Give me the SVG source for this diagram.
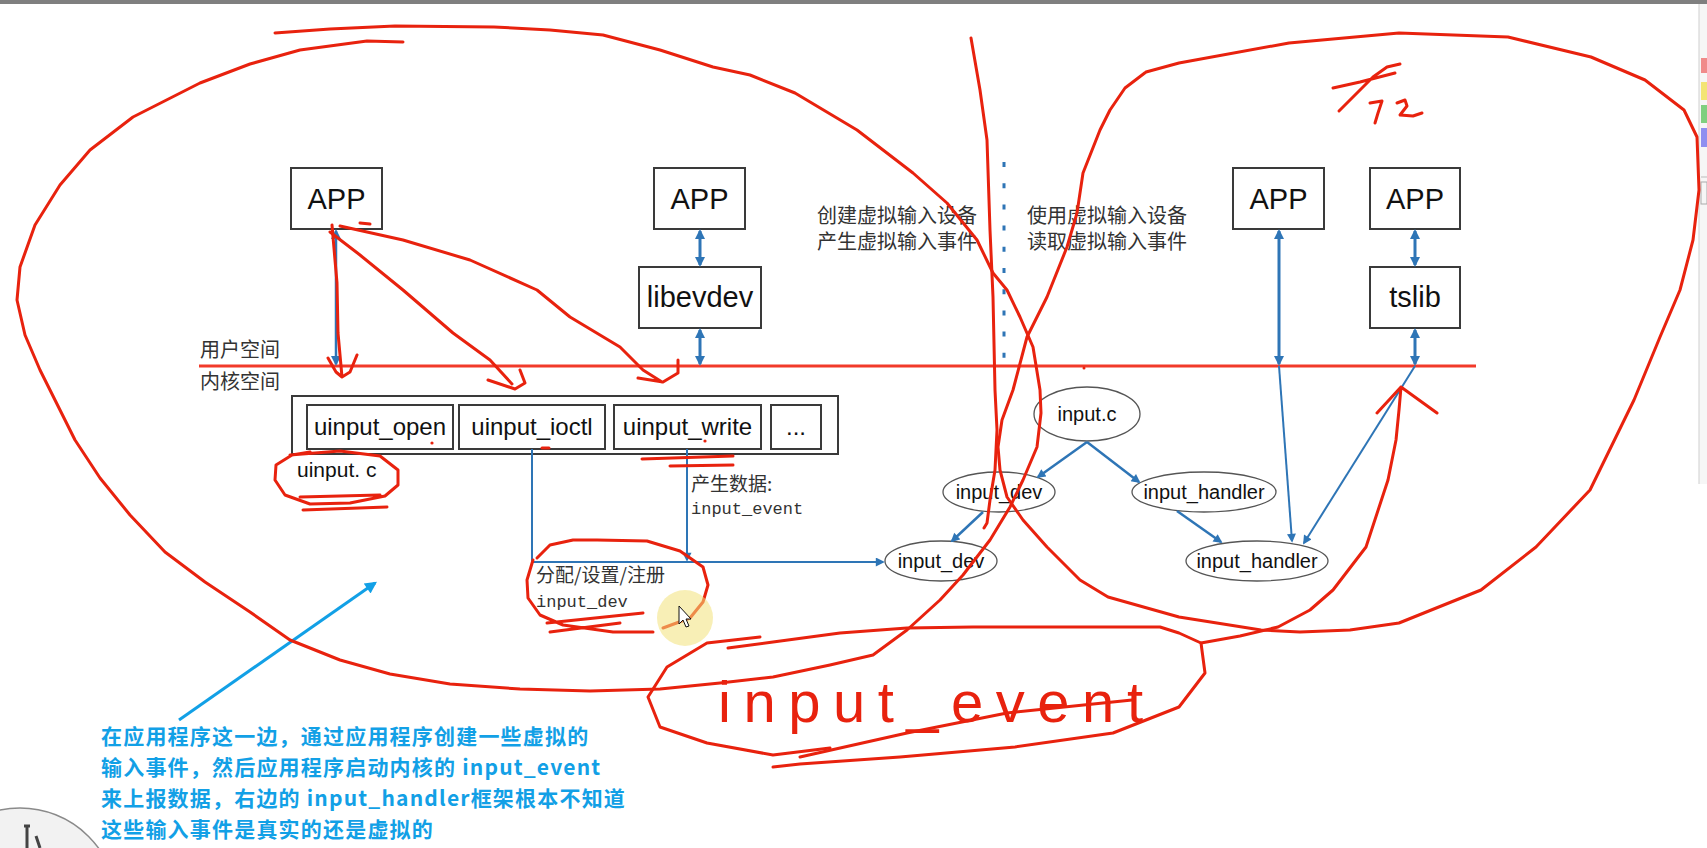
<svg xmlns="http://www.w3.org/2000/svg" width="1707" height="848" viewBox="0 0 1707 848">
<style>
.box{fill:#fff;stroke:#3a3a3a;stroke-width:2}
.ell{fill:#fff;stroke:#555;stroke-width:1.3}
.t{font-family:"Liberation Sans",Arial,sans-serif;fill:#111;text-anchor:middle}
.cjk{font-family:"Noto Sans CJK SC",sans-serif;fill:#333}
.mono{font-family:"Liberation Mono","Noto Sans CJK SC",monospace;fill:#333}
.bl{stroke:#2e75b6;fill:none}
.red{fill:none;stroke:#e8220e;stroke-width:3;stroke-linecap:round;stroke-linejoin:round}
.note{font-family:"Noto Sans CJK SC",sans-serif;font-weight:bold;font-size:21px;letter-spacing:1.2px;fill:#12a0e6}
</style>
<defs>
<marker id="ah" viewBox="0 0 10 10" refX="8" refY="5" markerWidth="11" markerHeight="10" markerUnits="userSpaceOnUse" orient="auto-start-reverse"><path d="M0,0 L10,5 L0,10 z" fill="#2e75b6"/></marker>
<marker id="ahs" viewBox="0 0 10 10" refX="8" refY="5" markerWidth="10" markerHeight="9" markerUnits="userSpaceOnUse" orient="auto"><path d="M0,0 L10,5 L0,10 z" fill="#2e75b6"/></marker>
<marker id="ahc" viewBox="0 0 10 10" refX="8" refY="5" markerWidth="14" markerHeight="12" markerUnits="userSpaceOnUse" orient="auto"><path d="M0,0 L10,5 L0,10 z" fill="#12a0e6"/></marker>
</defs>
<rect x="0" y="0" width="1707" height="848" fill="#fff"/>
<rect x="0" y="0" width="1707" height="4" fill="#7f7f7f"/>
<g id="toolbar">
<rect x="1699" y="4" width="8" height="480" fill="#f6f6f6"/>
<line x1="1699" y1="4" x2="1699" y2="484" stroke="#cfcfcf" stroke-width="1"/>
<rect x="1701" y="58" width="6" height="15" fill="#f08a8a"/>
<rect x="1701" y="82" width="6" height="18" fill="#f3e474"/>
<rect x="1701" y="105" width="6" height="18" fill="#7fcf7f"/>
<rect x="1701" y="128" width="6" height="19" fill="#8f8ff0"/>
<line x1="1701" y1="177" x2="1707" y2="177" stroke="#bbb"/>
<rect x="1701" y="182" width="6" height="22" fill="none" stroke="#aaa"/>
</g>
<g id="corner-icon">
<circle cx="20" cy="905" r="97" fill="#f2f2f2" stroke="#8a8a8a" stroke-width="1.5"/>
<path d="M24,826 L30,826 M27,826 L27,848 M36,836 L40,848" stroke="#444" stroke-width="3" fill="none"/>
</g>

<line id="user-kernel-line" x1="199" y1="366" x2="1476" y2="366" stroke="#f23a2a" stroke-width="3"/>
<text class="cjk" x="200" y="357" font-size="20">用户空间</text>
<text class="cjk" x="200" y="389" font-size="20">内核空间</text>

<g id="app1"><rect class="box" x="291" y="168" width="91" height="61"/><text class="t" x="336.5" y="209" font-size="29">APP</text></g>
<g id="app2"><rect class="box" x="654" y="168" width="91" height="61"/><text class="t" x="699.5" y="209" font-size="29">APP</text></g>
<g id="libevdev"><rect class="box" x="639" y="267" width="122" height="61"/><text class="t" x="700" y="307" font-size="29">libevdev</text></g>
<g id="app3"><rect class="box" x="1233" y="168" width="91" height="61"/><text class="t" x="1278.5" y="209" font-size="29">APP</text></g>
<g id="app4"><rect class="box" x="1370" y="168" width="90" height="61"/><text class="t" x="1415" y="209" font-size="29">APP</text></g>
<g id="tslib"><rect class="box" x="1370" y="267" width="90" height="61"/><text class="t" x="1415" y="307" font-size="29">tslib</text></g>

<g id="uinput-c">
<rect class="box" x="292" y="396" width="546" height="58"/>
<rect class="box" x="307" y="405" width="146" height="44"/><text class="t" x="380" y="435" font-size="24">uinput_open</text>
<rect class="box" x="459" y="405" width="146" height="44"/><text class="t" x="532" y="435" font-size="24">uinput_ioctl</text>
<rect class="box" x="614" y="405" width="147" height="44"/><text class="t" x="687.5" y="435" font-size="24">uinput_write</text>
<rect class="box" x="771" y="405" width="50" height="44"/><text class="t" x="796" y="435" font-size="24">...</text>
<text class="t" x="297" y="477" font-size="21" style="text-anchor:start">uinput. c</text>
</g>

<g id="input-c"><ellipse class="ell" cx="1087" cy="414" rx="53" ry="27"/><text class="t" x="1087" y="421" font-size="20">input.c</text></g>
<g id="input-dev-1"><ellipse class="ell" cx="999" cy="492" rx="56" ry="20"/><text class="t" x="999" y="499" font-size="20">input_dev</text></g>
<g id="input-handler-1"><ellipse class="ell" cx="1204" cy="492" rx="72" ry="20"/><text class="t" x="1204" y="499" font-size="20">input_handler</text></g>
<g id="input-dev-2"><ellipse class="ell" cx="941" cy="561" rx="56" ry="20"/><text class="t" x="941" y="568" font-size="20">input_dev</text></g>
<g id="input-handler-2"><ellipse class="ell" cx="1257" cy="561" rx="71" ry="20"/><text class="t" x="1257" y="568" font-size="20">input_handler</text></g>

<g id="labels">
<text class="cjk" x="817" y="223" font-size="20">创建虚拟输入设备</text>
<text class="cjk" x="817" y="249" font-size="20">产生虚拟输入事件</text>
<text class="cjk" x="1027" y="223" font-size="20">使用虚拟输入设备</text>
<text class="cjk" x="1027" y="249" font-size="20">读取虚拟输入事件</text>
<text class="cjk" x="691" y="491" font-size="19">产生数据:</text>
<text class="mono" x="691" y="514" font-size="17">input_event</text>
<text class="cjk" x="536" y="582" font-size="19">分配/设置/注册</text>
<text class="mono" x="536" y="607" font-size="17">input_dev</text>
</g>

<g id="connectors">
<line class="bl" x1="336" y1="231" x2="336" y2="364" stroke-width="2.5" marker-start="url(#ah)" marker-end="url(#ah)"/>
<line class="bl" x1="700" y1="231" x2="700" y2="265" stroke-width="3" marker-start="url(#ah)" marker-end="url(#ah)"/>
<line class="bl" x1="700" y1="330" x2="700" y2="364" stroke-width="3" marker-start="url(#ah)" marker-end="url(#ah)"/>
<line class="bl" x1="1279" y1="231" x2="1279" y2="364" stroke-width="3" marker-start="url(#ah)" marker-end="url(#ah)"/>
<line class="bl" x1="1415" y1="231" x2="1415" y2="265" stroke-width="3" marker-start="url(#ah)" marker-end="url(#ah)"/>
<line class="bl" x1="1415" y1="330" x2="1415" y2="364" stroke-width="3" marker-start="url(#ah)" marker-end="url(#ah)"/>
<line class="bl" x1="1279" y1="366" x2="1292" y2="541" stroke-width="2" marker-end="url(#ahs)"/>
<line class="bl" x1="1415" y1="366" x2="1304" y2="543" stroke-width="2" marker-end="url(#ahs)"/>
<polyline class="bl" points="532,449 532,562 883,562" stroke-width="2" marker-end="url(#ahs)"/>
<line class="bl" x1="687" y1="449" x2="687" y2="560" stroke-width="2" marker-end="url(#ahs)"/>
<line class="bl" x1="1087" y1="442" x2="1038" y2="477" stroke-width="2.5" marker-end="url(#ahs)"/>
<line class="bl" x1="1087" y1="442" x2="1139" y2="482" stroke-width="2.5" marker-end="url(#ahs)"/>
<line class="bl" x1="983" y1="512" x2="952" y2="541" stroke-width="2.5" marker-end="url(#ahs)"/>
<line class="bl" x1="1177" y1="511" x2="1221" y2="542" stroke-width="2.5" marker-end="url(#ahs)"/>
<line class="bl" x1="1004" y1="162" x2="1004" y2="360" stroke-width="3" stroke-dasharray="5 16.2"/>
</g>

<g id="annotation-arrow">
<line x1="179" y1="720" x2="375" y2="583" stroke="#12a0e6" stroke-width="3" marker-end="url(#ahc)"/>
</g>
<g id="annotation-text">
<text class="note" x="101" y="744">在应用程序这一边，通过应用程序创建一些虚拟的</text>
<text class="note" x="101" y="775">输入事件，然后应用程序启动内核的 input_event</text>
<text class="note" x="101" y="806">来上报数据，右边的 input_handler框架根本不知道</text>
<text class="note" x="101" y="837">这些输入事件是真实的还是虚拟的</text>
</g>

<g id="red-annotations">
<path class="red" d="M403,42 L367,41 L300,50 L250,64 L200,83 L133,117 L90,150 L60,185 L35,225 L20,267 L17,300 L25,335 L40,370 L55,400 L75,440 L100,478 L130,515 L165,552 L205,582 L250,612 L290,640 L340,660 L390,674 L450,684 L520,689 L590,691 L660,689 L720,683 L773,677 L830,665 L873,655 L907,630 L940,600 L963,575 L990,540 L1010,507 L1023,480 L1037,447 L1041,413 L1040,390 L1033,347 L1020,317 L1007,290 L993,273 L977,240 L947,203 L913,173 L857,130 L795,93 L750,75 L713,67 L660,50 L603,35 L550,30 L494,27 L395,26 L330,29 L275,33"/>
<path class="red" d="M971,38 L980,90 L987,140 L990,230 L993,297 L995,390 L997,430 L995,470 L990,500 L987,523 L984,528"/>
<path class="red" d="M1146,72 L1125,88 L1110,110 L1100,130 L1083,173 L1077,213 L1067,247 L1047,297 L1027,337 L1013,390 L1002,420 L998,447 L1000,470 L1007,497 L1023,520 L1047,547 L1080,580 L1108,597 L1179,617 L1261,630 L1300,632 L1350,630 L1399,623 L1481,590 L1536,547 L1590,490 L1634,400 L1660,337 L1680,290 L1693,240 L1699,190 L1697,137 L1684,110 L1645,80 L1591,57 L1508,37 L1399,33 L1289,43 L1179,63 L1146,72"/>
<path class="red" d="M1201,643 L1240,636 L1278,627 L1310,610 L1333,590 L1366,547 L1388,480 L1396,440 L1399,410 L1401,387 M1377,413 L1401,387 L1437,413"/>
<path class="red" d="M728,648 L773,642 L840,633 L907,628 L973,627 L1160,627 L1179,633 L1201,643 L1205,673 L1179,707 L1113,733 L1015,747 L900,757 L800,764 L773,767"/>
<path class="red" d="M760,637 L707,643 L667,667 L648,697 L660,727 L707,743 L773,755 L830,748"/>
<path class="red" d="M800,757 L907,733 L1007,713 L1132,700"/>
<path class="red" d="M332,225 L335,260 L337,283 L338,333 L342,377 M328,358 L336,372 L342,377 L350,372 L357,355"/>
<path class="red" d="M330,232 L360,255 L403,290 L453,333 L490,360 L512,384 M488,380 L515,389 L525,383 L520,370"/>
<path class="red" d="M340,226 L403,240 L470,260 L537,290 L570,317 L620,347 L643,370 L662,382 M638,378 L663,382 L678,373 L678,360"/>
<path class="red" d="M360,223 L370,224"/>
<path class="red" d="M290,455 L340,451 L380,456 L398,470 L398,485 L385,496 L350,503 L310,504 L285,495 L275,480 L276,465 L292,455 L310,452 M300,497 L380,495 M303,510 L387,507"/>
<path class="red" d="M537,558 L550,545 L573,540 L597,540 L647,541 L680,551 L703,567 L708,585 L703,602 L690,618 L663,628 M533,560 L527,580 L528,598 L540,615 L563,625 L613,632 L653,632 M547,623 L643,613 M550,632 L620,623"/>
<path class="red" d="M642,459 L733,456 M670,466 L733,465 M542,448 L549,448"/>
<circle cx="432" cy="443" r="1.6" fill="#e8220e"/>
<circle cx="705" cy="441" r="1.6" fill="#e8220e"/>
<circle cx="1084" cy="368" r="1.5" fill="#e8220e"/>
<path class="red" d="M1333,88 L1360,82 L1395,73 M1400,64 L1387,67 L1373,77 L1357,93 L1339,111 M1370,103 L1382,101 L1378,113 L1375,123 M1397,103 L1405,100 L1407,106 L1400,115 L1413,116 L1422,113"/>
<text x="718" y="722" font-family="Liberation Sans, sans-serif" font-size="58" fill="#e8220e" textLength="425" lengthAdjust="spacing">input_event</text>
</g>

<g id="cursor">
<circle cx="685" cy="618" r="28" fill="#f3e27a" opacity="0.55"/>
<path d="M679,606 L679,624 L683,620 L686,627 L689,626 L686,619 L691,619 Z" fill="#fff" stroke="#111" stroke-width="1"/>
</g>
</svg>
